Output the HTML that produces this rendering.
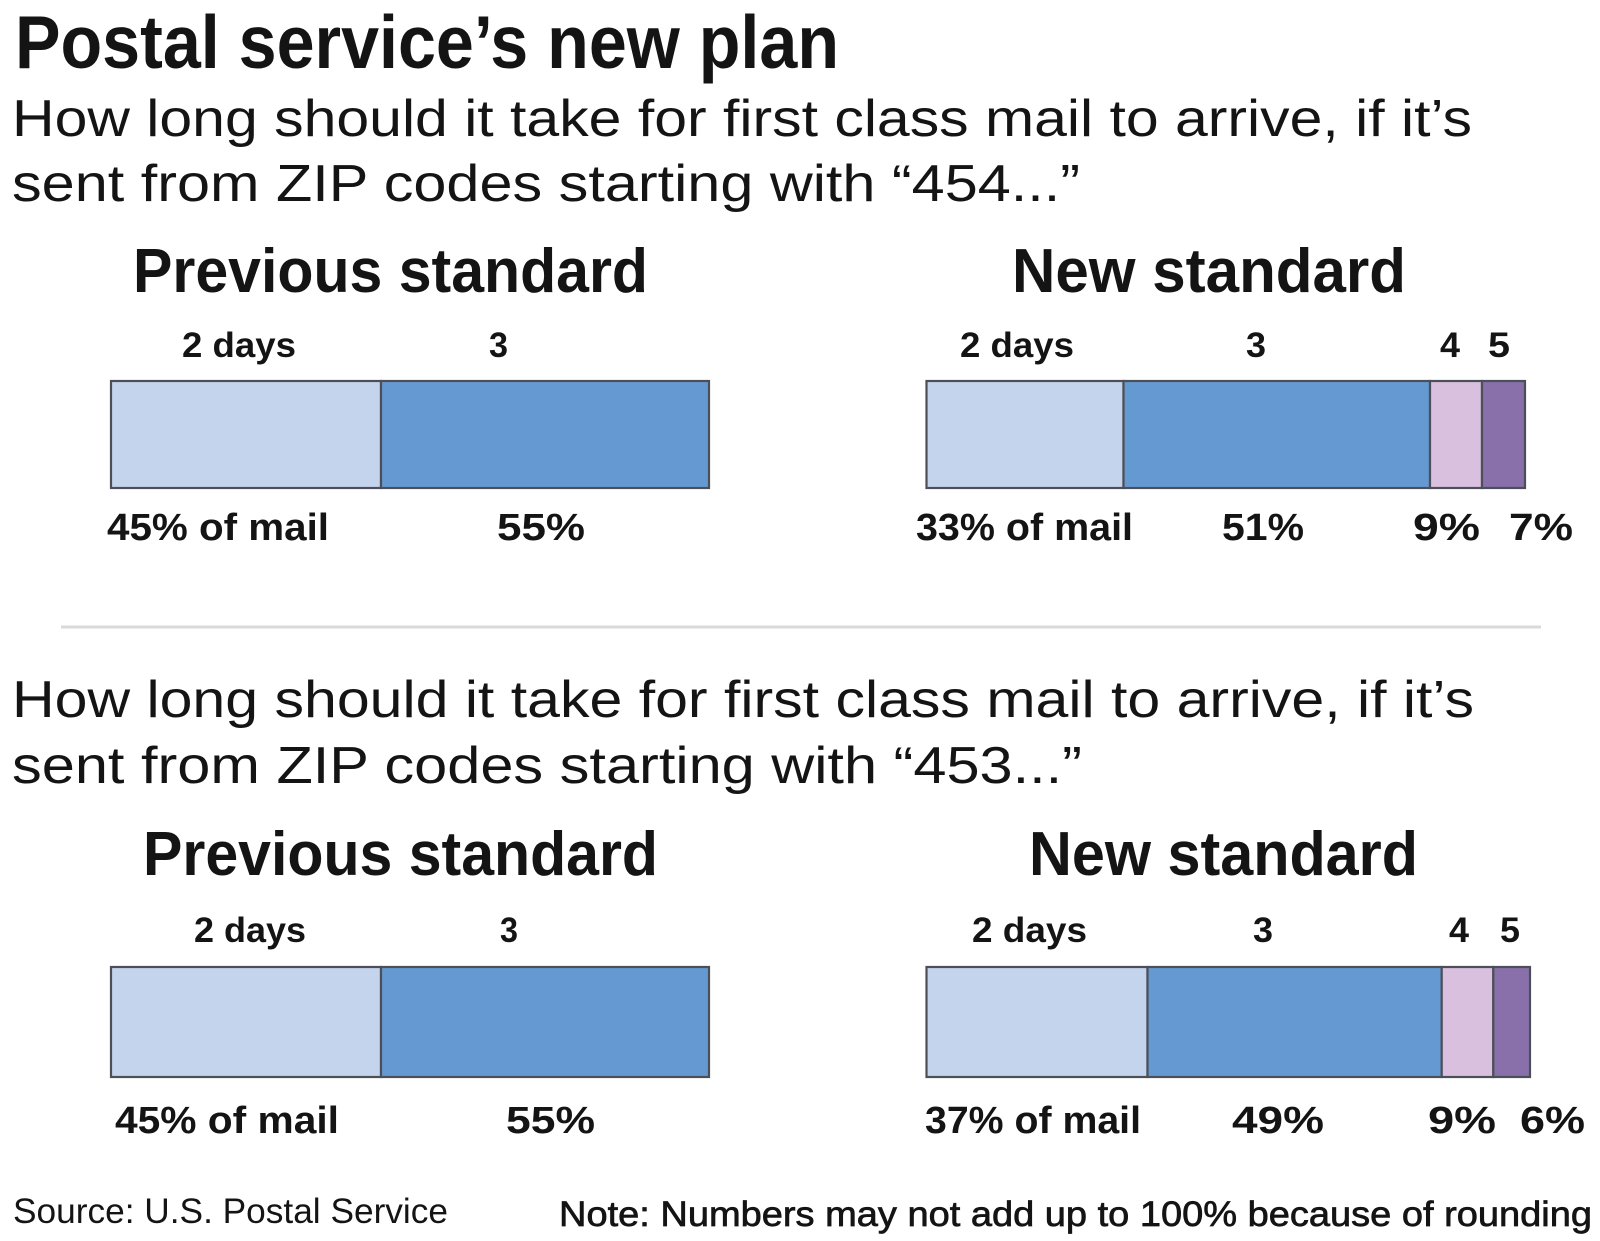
<!DOCTYPE html>
<html>
<head>
<meta charset="utf-8">
<style>
  html, body { margin: 0; padding: 0; background: #ffffff; }
  svg { display: block; }
  text { font-family: "Liberation Sans", Arial, sans-serif; fill: #141414; }
  .title { font-size: 75px; font-weight: bold; }
  .sub { font-size: 52px; font-weight: normal; }
  .head { font-size: 62px; font-weight: bold; }
  .lab { font-size: 35px; font-weight: bold; }
  .pct { font-size: 38px; font-weight: bold; }
  .foot { font-size: 35px; font-weight: normal; }
  .note { font-size: 35px; font-weight: normal; stroke: #141414; stroke-width: 0.7px; }
</style>
</head>
<body>
<svg width="1600" height="1241" viewBox="0 0 1600 1241" xmlns="http://www.w3.org/2000/svg">
  <rect x="0" y="0" width="1600" height="1241" fill="#ffffff"/>

  <!-- Title -->
  <text class="title" x="15" y="68" textLength="824" lengthAdjust="spacingAndGlyphs">Postal service’s new plan</text>

  <!-- Section 1 question -->
  <text class="sub" x="12" y="136" textLength="1460" lengthAdjust="spacingAndGlyphs">How long should it take for first class mail to arrive, if it’s</text>
  <text class="sub" x="12" y="201" textLength="1068" lengthAdjust="spacingAndGlyphs">sent from ZIP codes starting with “454...”</text>

  <!-- Section 1 headers -->
  <text class="head" x="133" y="292" textLength="515" lengthAdjust="spacingAndGlyphs">Previous standard</text>
  <text class="head" x="1012" y="292" textLength="394" lengthAdjust="spacingAndGlyphs">New standard</text>

  <!-- Section 1 top labels -->
  <text class="lab" x="182" y="357" textLength="114" lengthAdjust="spacingAndGlyphs">2 days</text>
  <text class="lab" x="489" y="357" textLength="19" lengthAdjust="spacingAndGlyphs">3</text>
  <text class="lab" x="960" y="357" textLength="114" lengthAdjust="spacingAndGlyphs">2 days</text>
  <text class="lab" x="1246" y="357" textLength="20" lengthAdjust="spacingAndGlyphs">3</text>
  <text class="lab" x="1440" y="357" textLength="20" lengthAdjust="spacingAndGlyphs">4</text>
  <text class="lab" x="1488" y="357" textLength="22" lengthAdjust="spacingAndGlyphs">5</text>

  <!-- Section 1 bars -->
  <g stroke="#4d4f58" stroke-width="2.2">
    <rect x="111" y="381" width="270" height="107" fill="#c5d4ed"/>
    <rect x="381" y="381" width="328" height="107" fill="#6599d2"/>

    <rect x="926.5" y="381" width="197" height="107" fill="#c5d4ed"/>
    <rect x="1123.5" y="381" width="306.5" height="107" fill="#6599d2"/>
    <rect x="1430" y="381" width="52" height="107" fill="#d8c0de"/>
    <rect x="1482" y="381" width="43" height="107" fill="#8970aa"/>
  </g>

  <!-- Section 1 bottom labels -->
  <text class="pct" x="107" y="540" textLength="222" lengthAdjust="spacingAndGlyphs">45% of mail</text>
  <text class="pct" x="497" y="540" textLength="88" lengthAdjust="spacingAndGlyphs">55%</text>
  <text class="pct" x="916" y="540" textLength="217" lengthAdjust="spacingAndGlyphs">33% of mail</text>
  <text class="pct" x="1222" y="540" textLength="82" lengthAdjust="spacingAndGlyphs">51%</text>
  <text class="pct" x="1413" y="540" textLength="67" lengthAdjust="spacingAndGlyphs">9%</text>
  <text class="pct" x="1509" y="540" textLength="64" lengthAdjust="spacingAndGlyphs">7%</text>

  <!-- Divider -->
  <line x1="61" y1="627" x2="1541" y2="627" stroke="#d9d9d9" stroke-width="3"/>

  <!-- Section 2 question -->
  <text class="sub" x="12" y="717" textLength="1462" lengthAdjust="spacingAndGlyphs">How long should it take for first class mail to arrive, if it’s</text>
  <text class="sub" x="12" y="783" textLength="1070" lengthAdjust="spacingAndGlyphs">sent from ZIP codes starting with “453...”</text>

  <!-- Section 2 headers -->
  <text class="head" x="143" y="875" textLength="515" lengthAdjust="spacingAndGlyphs">Previous standard</text>
  <text class="head" x="1029" y="875" textLength="389" lengthAdjust="spacingAndGlyphs">New standard</text>

  <!-- Section 2 top labels -->
  <text class="lab" x="194" y="942" textLength="112" lengthAdjust="spacingAndGlyphs">2 days</text>
  <text class="lab" x="500" y="942" textLength="18" lengthAdjust="spacingAndGlyphs">3</text>
  <text class="lab" x="972" y="942" textLength="115" lengthAdjust="spacingAndGlyphs">2 days</text>
  <text class="lab" x="1253" y="942" textLength="20" lengthAdjust="spacingAndGlyphs">3</text>
  <text class="lab" x="1449" y="942" textLength="20" lengthAdjust="spacingAndGlyphs">4</text>
  <text class="lab" x="1500" y="942" textLength="20" lengthAdjust="spacingAndGlyphs">5</text>

  <!-- Section 2 bars -->
  <g stroke="#4d4f58" stroke-width="2.2">
    <rect x="111" y="967" width="270" height="110" fill="#c5d4ed"/>
    <rect x="381" y="967" width="328" height="110" fill="#6599d2"/>

    <rect x="926.5" y="967" width="221" height="110" fill="#c5d4ed"/>
    <rect x="1147.5" y="967" width="294.2" height="110" fill="#6599d2"/>
    <rect x="1441.7" y="967" width="51.6" height="110" fill="#d8c0de"/>
    <rect x="1493.3" y="967" width="36.7" height="110" fill="#8970aa"/>
  </g>

  <!-- Section 2 bottom labels -->
  <text class="pct" x="115" y="1133" textLength="224" lengthAdjust="spacingAndGlyphs">45% of mail</text>
  <text class="pct" x="506" y="1133" textLength="89" lengthAdjust="spacingAndGlyphs">55%</text>
  <text class="pct" x="925" y="1133" textLength="216" lengthAdjust="spacingAndGlyphs">37% of mail</text>
  <text class="pct" x="1232" y="1133" textLength="92" lengthAdjust="spacingAndGlyphs">49%</text>
  <text class="pct" x="1428" y="1133" textLength="68" lengthAdjust="spacingAndGlyphs">9%</text>
  <text class="pct" x="1520" y="1133" textLength="65" lengthAdjust="spacingAndGlyphs">6%</text>

  <!-- Footer -->
  <text class="foot" x="13" y="1223" textLength="435" lengthAdjust="spacingAndGlyphs">Source: U.S. Postal Service</text>
  <text class="note" x="559" y="1226" textLength="1033" lengthAdjust="spacingAndGlyphs">Note: Numbers may not add up to 100% because of rounding</text>
</svg>
</body>
</html>
